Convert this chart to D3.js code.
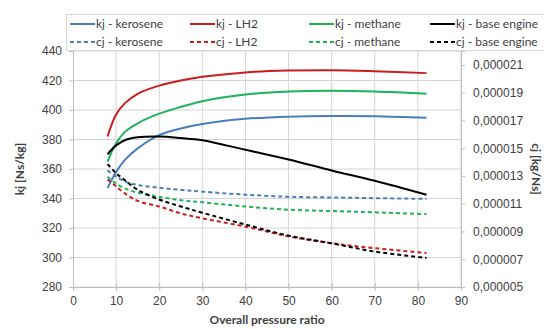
<!DOCTYPE html>
<html>
<head>
<meta charset="utf-8">
<script src="https://cdn.jsdelivr.net/npm/d3@7"></script>
<style>
  body { margin: 0; background: #fff; }
  svg { display: block; font-family: Lato, "Noto Sans", sans-serif; }
</style>
</head>
<body>
<div id="chart"></div>
<script>
// pressure ratio points where the curves were read
const OPR = [8, 10, 12, 15, 20, 25, 30, 40, 50, 60, 70, 82];

// kj [Ns/kg] (left axis)
const KJ_KEROSENE = [347, 358, 366, 374, 383, 387.5, 390.5, 394, 395.5, 396, 395.8, 394.7];
const KJ_LH2      = [382, 397, 404.5, 411, 416.5, 420, 422.5, 425.5, 426.7, 427, 426.3, 425];
const KJ_METHANE  = [365, 377.5, 385, 391, 397.5, 402, 406, 410.5, 412.5, 413, 412.5, 411];
const KJ_BASE     = [370, 376, 379.5, 381.5, 382, 381, 379.5, 373, 366.5, 359, 352, 342.5];

// cj [kg/Ns] (right axis)
const CJ_KEROSENE = [13.4e-6, 12.95e-6, 12.6e-6, 12.35e-6, 12.15e-6, 12.0e-6, 11.87e-6, 11.65e-6, 11.5e-6, 11.45e-6, 11.4e-6, 11.35e-6];
const CJ_LH2      = [12.75e-6, 12.25e-6, 11.75e-6, 11.2e-6, 10.8e-6, 10.3e-6, 9.95e-6, 9.35e-6, 8.65e-6, 8.15e-6, 7.8e-6, 7.45e-6];
const CJ_METHANE  = [12.95e-6, 12.45e-6, 12.1e-6, 11.8e-6, 11.5e-6, 11.25e-6, 11.1e-6, 10.8e-6, 10.57e-6, 10.47e-6, 10.38e-6, 10.25e-6];
const CJ_BASE     = [13.85e-6, 13.2e-6, 12.7e-6, 12.0e-6, 11.3e-6, 10.8e-6, 10.35e-6, 9.5e-6, 8.7e-6, 8.15e-6, 7.55e-6, 7.1e-6];

const X_TICKS = [0, 10, 20, 30, 40, 50, 60, 70, 80, 90];
const Y_TICKS = [280, 300, 320, 340, 360, 380, 400, 420, 440];
const Y2_TICKS = [5e-6, 7e-6, 9e-6, 11e-6, 13e-6, 15e-6, 17e-6, 19e-6, 21e-6];

const series = [
  {name: 'kj - kerosene', values: KJ_KEROSENE, color: '#4a7ebb', dash: null, axis: 'left'},
  {name: 'kj - LH2', values: KJ_LH2, color: '#c81e1e', dash: null, axis: 'left'},
  {name: 'kj - methane', values: KJ_METHANE, color: '#1fb25a', dash: null, axis: 'left'},
  {name: 'kj - base engine', values: KJ_BASE, color: '#000', dash: null, axis: 'left'},
  {name: 'cj - kerosene', values: CJ_KEROSENE, color: '#4a7ebb', dash: '4,3', axis: 'right'},
  {name: 'cj - LH2', values: CJ_LH2, color: '#c81e1e', dash: '4,3', axis: 'right'},
  {name: 'cj - methane', values: CJ_METHANE, color: '#1fb25a', dash: '4,3', axis: 'right'},
  {name: 'cj - base engine', values: CJ_BASE, color: '#000', dash: '4,3', axis: 'right'}
];

const W = 544, H = 329;
const margin = {top: 51, right: 83, bottom: 42, left: 73};

const svg = d3.select('#chart').append('svg')
  .attr('width', W)
  .attr('height', H);

const x = d3.scaleLinear().domain([0, 90]).range([margin.left, W - margin.right]);
const y = d3.scaleLinear().domain([280, 440]).range([H - margin.bottom, margin.top]);
const y2 = d3.scaleLinear().domain([5e-6, 22e-6]).range([H - margin.bottom, margin.top]);

const gridColor = '#d4d4d4';
const axisColor = '#bfbfbf';
const textColor = '#404040';

// grid
svg.append('g').selectAll('line').data(Y_TICKS).join('line')
  .attr('x1', x(0)).attr('x2', x(90))
  .attr('y1', d => y(d)).attr('y2', d => y(d))
  .attr('stroke', gridColor).attr('stroke-width', 1);
svg.append('g').selectAll('line').data(X_TICKS.slice(1)).join('line')
  .attr('x1', d => x(d)).attr('x2', d => x(d))
  .attr('y1', y(280)).attr('y2', y(440))
  .attr('stroke', gridColor).attr('stroke-width', 1);

// axes
const xAxis = svg.append('g')
  .attr('transform', `translate(0, ${y(280)})`)
  .call(d3.axisBottom(x).tickValues(X_TICKS).tickSize(4).tickPadding(5));
const yAxis = svg.append('g')
  .attr('transform', `translate(${x(0)}, 0)`)
  .call(d3.axisLeft(y).tickValues(Y_TICKS).tickSize(4).tickPadding(7));
const y2Axis = svg.append('g')
  .attr('transform', `translate(${x(90)}, 0)`)
  .call(d3.axisRight(y2).tickValues(Y2_TICKS).tickSize(4).tickPadding(8)
    .tickFormat(d => d3.format('.6f')(d).replace('.', ',')));

[xAxis, yAxis, y2Axis].forEach(a => {
  a.select('.domain').attr('stroke', axisColor);
  a.selectAll('.tick line').attr('stroke', axisColor);
  a.selectAll('text').attr('fill', textColor).style('font-size', '12px');
});
xAxis.selectAll('.tick line').attr('y1', -4);

// curves
const curve = d3.curveCatmullRom.alpha(0.5);
const lineLeft = d3.line()
  .x((d, i) => x(OPR[i]))
  .y(d => y(d))
  .curve(curve);
const lineRight = d3.line()
  .x((d, i) => x(OPR[i]))
  .y(d => y2(d))
  .curve(curve);

svg.append('g').selectAll('path').data(series).join('path')
  .attr('d', d => d.axis === 'left' ? lineLeft(d.values) : lineRight(d.values))
  .attr('fill', 'none')
  .attr('stroke', d => d.color)
  .attr('stroke-width', 2)
  .attr('stroke-dasharray', d => d.dash);

// axis titles
svg.append('text')
  .attr('transform', `translate(24, ${(y(280) + y(440)) / 2}) rotate(-90)`)
  .attr('text-anchor', 'middle')
  .attr('fill', textColor)
  .style('font-size', '12px').style('font-weight', 'bold')
  .text('kj [Ns/kg]');
svg.append('text')
  .attr('transform', `translate(532, ${(y(280) + y(440)) / 2}) rotate(90)`)
  .attr('text-anchor', 'middle')
  .attr('fill', textColor)
  .style('font-size', '12px').style('font-weight', 'bold')
  .text('cj [kg/Ns]');
svg.append('text')
  .attr('x', (x(0) + x(90)) / 2)
  .attr('y', 324)
  .attr('text-anchor', 'middle')
  .attr('fill', textColor)
  .style('font-size', '12px').style('font-weight', 'bold')
  .text('Overall pressure ratio');

// legend
const legend = svg.append('g');
legend.append('rect')
  .attr('x', 66.5).attr('y', 14.5)
  .attr('width', 490).attr('height', 36)
  .attr('fill', '#fff')
  .attr('stroke', '#d9d9d9');

const colX = [70, 190, 309, 430];
const rowY = [24, 42];
series.forEach((s, i) => {
  const cx = colX[i % 4], cy = rowY[Math.floor(i / 4)];
  legend.append('line')
    .attr('x1', cx).attr('x2', cx + 25)
    .attr('y1', cy).attr('y2', cy)
    .attr('stroke', s.color).attr('stroke-width', 2)
    .attr('stroke-dasharray', s.dash);
  legend.append('text')
    .attr('x', cx + 26).attr('y', cy)
    .attr('dy', '0.35em')
    .attr('fill', textColor)
    .style('font-size', '12px')
    .text(s.name);
});
</script>
</body>
</html>
